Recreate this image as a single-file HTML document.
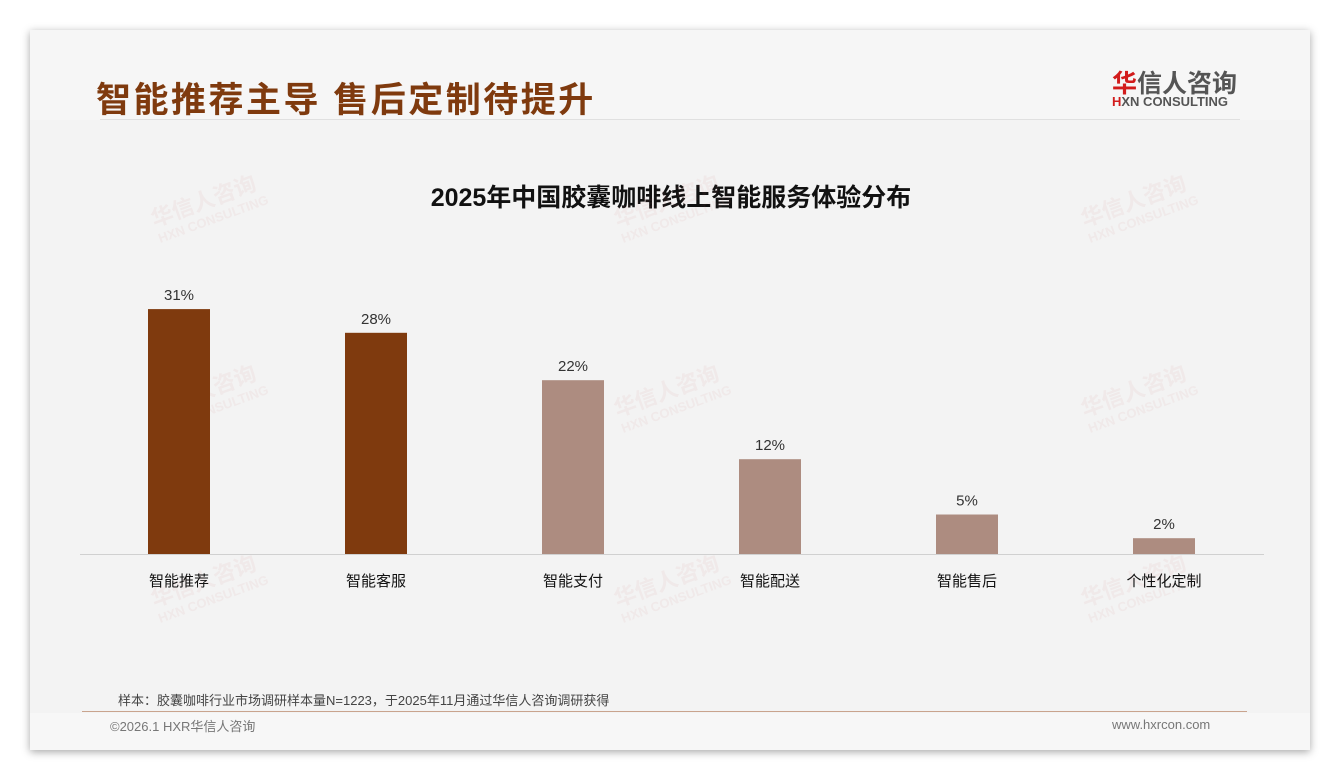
<!DOCTYPE html>
<html><head><meta charset="utf-8"><style>
body{margin:0;width:1340px;height:780px;background:#fff;position:relative;overflow:hidden;font-family:"Liberation Sans","Noto Sans CJK SC",sans-serif}
#card{position:absolute;left:30px;top:30px;width:1280px;height:720px;background:#f3f3f3;box-shadow:0 2px 8px rgba(0,0,0,.35)}
.abs{position:absolute;white-space:nowrap}
.wm{position:absolute;color:rgba(200,120,120,.08);font-weight:bold;transform:rotate(-20deg);font-size:22px;line-height:20px}
.wm small{display:block;font-size:13px}
</style></head><body>
<div id="card">
<div class="abs" style="left:0;top:0;width:1280px;height:90px;background:#f6f6f6"></div>
<div class="abs" style="left:0;top:683px;width:1280px;height:37px;background:#f7f7f7"></div>
<div class="abs" style="left:66px;top:42px;font-size:35px;font-weight:bold;color:#7f3a0e;letter-spacing:2.5px">智能推荐主导 售后定制待提升</div>
<div class="abs" style="left:1082px;top:34px;font-size:25px;font-weight:bold;color:#555"><span style="color:#d21c1c">华</span>信人咨询</div>
<div class="abs" style="left:1082px;top:64px;font-size:13px;font-weight:bold;color:#555"><span style="color:#d21c1c">H</span>XN CONSULTING</div>
<div class="abs" style="left:70px;top:89px;width:1140px;height:1px;background:#e0e0e0"></div>
<div class="abs" style="left:0;width:1282px;text-align:center;top:148px;font-size:25px;font-weight:bold;color:#111">2025年中国胶囊咖啡线上智能服务体验分布</div>
<div class="wm" style="left:122px;top:160px">华信人咨询<small>HXN CONSULTING</small></div>
<div class="wm" style="left:585px;top:160px">华信人咨询<small>HXN CONSULTING</small></div>
<div class="wm" style="left:1052px;top:160px">华信人咨询<small>HXN CONSULTING</small></div>
<div class="wm" style="left:122px;top:350px">华信人咨询<small>HXN CONSULTING</small></div>
<div class="wm" style="left:585px;top:350px">华信人咨询<small>HXN CONSULTING</small></div>
<div class="wm" style="left:1052px;top:350px">华信人咨询<small>HXN CONSULTING</small></div>
<div class="wm" style="left:122px;top:540px">华信人咨询<small>HXN CONSULTING</small></div>
<div class="wm" style="left:585px;top:540px">华信人咨询<small>HXN CONSULTING</small></div>
<div class="wm" style="left:1052px;top:540px">华信人咨询<small>HXN CONSULTING</small></div>
<svg id="chart" class="abs" style="left:0;top:0" width="1280" height="720"></svg>
<div class="abs" style="left:88px;top:660px;font-size:13px;color:#444">样本：胶囊咖啡行业市场调研样本量N=1223，于2025年11月通过华信人咨询调研获得</div>
<div class="abs" style="left:52px;top:681px;width:1165px;height:1px;background:#c9a48e"></div>
<div class="abs" style="left:80px;top:686px;font-size:13px;color:#777">©2026.1 HXR华信人咨询</div>
<div class="abs" style="left:1082px;top:687px;font-size:13px;color:#777">www.hxrcon.com</div>
</div>
<script>
const categories=["智能推荐","智能客服","智能支付","智能配送","智能售后","个性化定制"];
const values=[31,28,22,12,5,2];
const highlight=[true,true,false,false,false,false];
const svg=document.getElementById('chart');
const NS='http://www.w3.org/2000/svg';
const baseY=524, pxPer=7.9, x0=149, step=197, bw=62;
const xc=i=>x0+i*step, yv=v=>baseY-v*pxPer;
const axis=document.createElementNS(NS,'line');
axis.setAttribute('x1',50);axis.setAttribute('x2',1234);axis.setAttribute('y1',baseY+0.5);axis.setAttribute('y2',baseY+0.5);
axis.setAttribute('stroke','#d0d0d0');


svg.appendChild(axis);
categories.forEach((c,i)=>{
  const r=document.createElementNS(NS,'rect');
  r.setAttribute('x',xc(i)-bw/2);r.setAttribute('y',yv(values[i]));r.setAttribute('width',bw);r.setAttribute('height',values[i]*pxPer);
  r.setAttribute('fill',highlight[i]?'#7f3a0e':'#ad8c80');
  
  
  svg.appendChild(r);
  const t=document.createElementNS(NS,'text');
  t.setAttribute('x',xc(i));t.setAttribute('y',yv(values[i])-9);t.setAttribute('text-anchor','middle');
  t.setAttribute('font-size','15');t.setAttribute('fill','#333');t.textContent=values[i]+'%';
  
  
  svg.appendChild(t);
  const l=document.createElementNS(NS,'text');
  l.setAttribute('x',xc(i));l.setAttribute('y',baseY+32);l.setAttribute('text-anchor','middle');
  l.setAttribute('font-size','15');l.setAttribute('fill','#111');l.textContent=c;
  
  
  svg.appendChild(l);
});
</script>
</body></html>
